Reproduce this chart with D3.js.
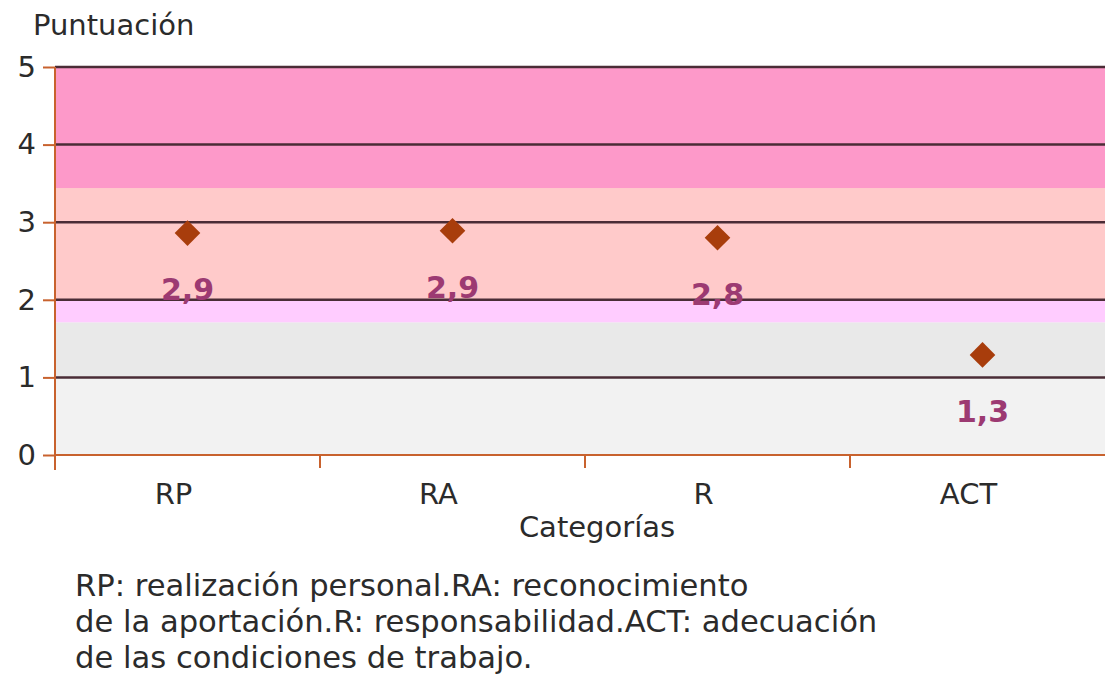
<!DOCTYPE html>
<html><head><meta charset="utf-8">
<script src="https://cdn.jsdelivr.net/npm/d3@7"></script>
<style>body{margin:0;background:#fff}svg{display:block}text{font-family:"DejaVu Sans",Verdana,sans-serif}</style>
</head><body>
<script>
const categories = ["RP","RA","R","ACT"];
const values = [2.86, 2.89, 2.80, 1.29];
const valueLabels = ["2,9","2,9","2,8","1,3"];
const yTicks = [0,1,2,3,4,5];
const bandStops = [0, 1, 1.71, 2, 3.44, 5];
const bandColors = ["#f2f2f2","#e9e9e9","#ffccff","#ffcaca","#fd99c9"];
const footnote = ["RP: realización personal.RA: reconocimiento",
  "de la aportación.R: responsabilidad.ACT: adecuación",
  "de las condiciones de trabajo."];

const W=1105,H=676;
const svg=d3.select("body").append("svg").attr("width",W).attr("height",H);
const x0=55, x1=1115, yTop=67, yBot=455;
const x=d3.scaleBand().domain(categories).range([x0,x1]);
const y=d3.scaleLinear().domain([0,5]).range([yBot,yTop]);
const textColor="#2b2b2b";

// bands
const bands=bandColors.map((c,i)=>({lo:bandStops[i],hi:bandStops[i+1],c}));
svg.selectAll("rect.band").data(bands).join("rect").attr("class","band")
  .attr("x",x0).attr("width",x1-x0).attr("y",d=>y(d.hi)).attr("height",d=>y(d.lo)-y(d.hi)).attr("fill",d=>d.c);

// gridlines
svg.selectAll("line.grid").data(yTicks.filter(t=>t>0)).join("line").attr("class","grid")
  .attr("x1",x0).attr("x2",x1).attr("y1",d=>y(d)).attr("y2",d=>y(d))
  .attr("stroke","#4a2c36").attr("stroke-width",2.5);

const axisColor="#c8622e";
// y axis
const ya=svg.append("g").attr("transform",`translate(${x0},0)`)
  .call(d3.axisLeft(y).tickValues(yTicks).tickFormat(d3.format("d")).tickSize(12).tickPadding(7));
ya.select(".domain").remove();
ya.selectAll(".tick line").attr("stroke",axisColor).attr("stroke-width",2);
ya.selectAll(".tick text").attr("font-size",29).attr("fill",textColor).attr("font-family","DejaVu Sans");
svg.append("line").attr("x1",x0).attr("x2",x0).attr("y1",yTop).attr("y2",yBot+15).attr("stroke",axisColor).attr("stroke-width",2);

// x axis
svg.append("line").attr("x1",x0).attr("x2",x1).attr("y1",yBot).attr("y2",yBot).attr("stroke",axisColor).attr("stroke-width",2);
svg.selectAll("line.xt").data(categories.slice(1)).join("line").attr("class","xt")
  .attr("x1",d=>x(d)).attr("x2",d=>x(d)).attr("y1",yBot).attr("y2",yBot+13).attr("stroke",axisColor).attr("stroke-width",2);
svg.selectAll("text.cat").data(categories).join("text").attr("class","cat")
  .attr("x",d=>x(d)+x.bandwidth()/2-14).attr("y",504).attr("text-anchor","middle")
  .attr("font-size",29).attr("fill",textColor).text(d=>d);

// points
const sym=d3.symbol().type(d3.symbolDiamond2).size(420);
svg.selectAll("path.pt").data(values).join("path").attr("class","pt")
  .attr("transform",(d,i)=>`translate(${x(categories[i])+x.bandwidth()/2},${y(d)})`)
  .attr("d",sym).attr("fill","#a83d0c");
svg.selectAll("text.vl").data(values).join("text").attr("class","vl")
  .attr("x",(d,i)=>x(categories[i])+x.bandwidth()/2).attr("y",d=>y(d)+67)
  .attr("text-anchor","middle").attr("font-size",30).attr("font-weight","bold").attr("fill","#9c3a72")
  .text((d,i)=>valueLabels[i]);

// titles
svg.append("text").attr("x",33).attr("y",35).attr("font-size",29).attr("fill",textColor).text("Puntuación");
svg.append("text").attr("x",597).attr("y",537).attr("text-anchor","middle").attr("font-size",29).attr("fill",textColor).text("Categorías");
svg.selectAll("text.fn").data(footnote).join("text").attr("class","fn")
  .attr("x",75).attr("y",(d,i)=>596+i*36).attr("font-size",30.6).attr("fill",textColor).text(d=>d);
</script>
</body></html>
